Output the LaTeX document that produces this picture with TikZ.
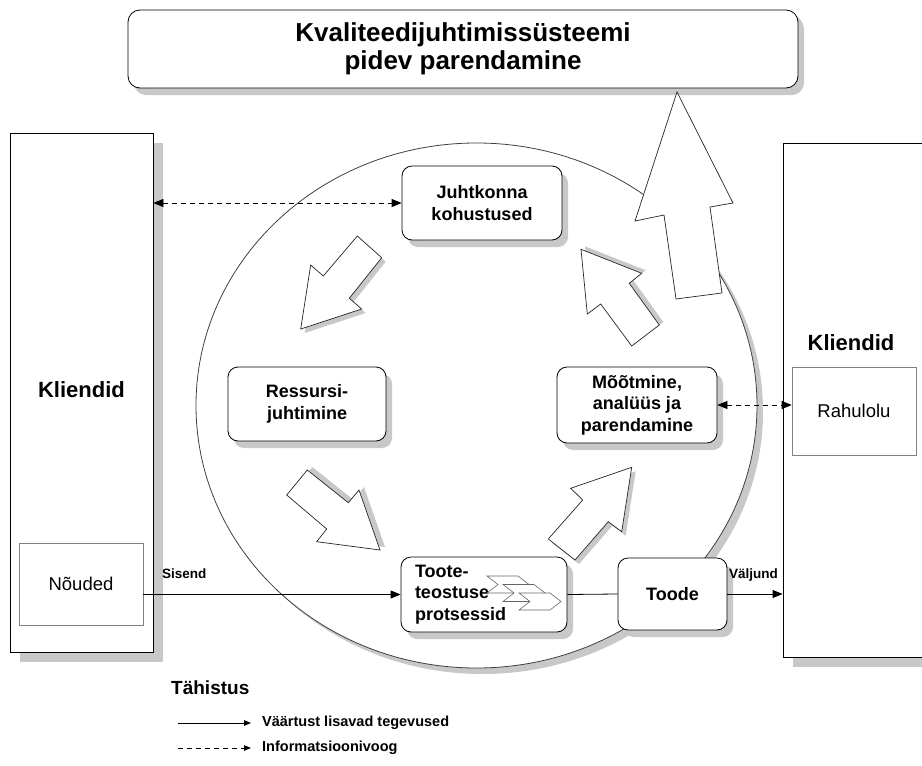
\documentclass[tikz,border=0pt]{standalone}
\usepackage{fontspec}
\setmainfont{Liberation Sans}
\usetikzlibrary{arrows.meta,shadows}
\definecolor{shadowc}{RGB}{200,200,200}
\definecolor{bordergray}{RGB}{128,128,128}
\tikzset{
  rbox/.style={draw=black, line width=0.8pt, fill=white, rounded corners=10pt,
    inner sep=0pt, align=center, font=\fontsize{18}{21.5}\selectfont\bfseries,
    drop shadow={shadow xshift=6pt, shadow yshift=-7pt, fill=shadowc, opacity=1}},
  tbox/.style={rbox, rounded corners=12pt, font=\fontsize{26}{28}\selectfont\bfseries,
    drop shadow={shadow xshift=5pt, shadow yshift=-5pt, fill=shadowc, opacity=1}},
  kbox/.style={draw=black, line width=0.8pt, fill=white, inner sep=0pt,
    drop shadow={shadow xshift=10pt, shadow yshift=-10pt, fill=shadowc, opacity=1}},
  gbox/.style={draw=bordergray, line width=0.6pt, fill=white, inner sep=0pt,
    font=\fontsize{18.5}{21}\selectfont},
  ktext/.style={inner sep=0pt, font=\fontsize{22}{26}\selectfont\bfseries},
  lbl/.style={inner sep=0pt, font=\fontsize{13.5}{16}\selectfont\bfseries},
  lgtext/.style={inner sep=0pt, font=\fontsize{14.5}{17}\selectfont\bfseries},
  circ/.style={draw=black!75, line width=0.8pt, fill=white},
  barrow/.style={draw=black!85, line width=0.7pt, fill=white, line join=miter},
  ashadow/.style={fill=shadowc, draw=none},
  chev/.style={draw=black!60, fill=white, line width=0.6pt, line join=miter},
  flow/.style={draw=black, line width=0.8pt},
  info/.style={draw=black, line width=0.8pt, dash pattern=on 5pt off 4pt},
  bigtip/.tip={Triangle[length=10pt,width=8pt]},
  smalltip/.tip={Triangle[length=7pt,width=5.5pt]}
}
\begin{document}
\begin{tikzpicture}[x=1pt,y=-1pt]
\useasboundingbox (0,0) rectangle (922,766);
\clip (0,0) rectangle (922,766);
\fill[white] (0,0) rectangle (922,766);

% customers boxes
\node[kbox, minimum width=143pt, minimum height=519pt] (kl) at (81.5,392.5) {};
\node[kbox, minimum width=180pt, minimum height=514pt] (kr) at (873,400) {};
\node[ktext] (kltxt) at (81.5,390) {Kliendid};
\node[ktext] (krtxt) at (851,343) {Kliendid};
\node[gbox, minimum width=124pt, minimum height=82pt] (nou) at (81,584) {Nõuded};
\node[gbox, minimum width=124pt, minimum height=88pt] (rah) at (854,411) {Rahulolu};

% circle
\fill[shadowc] (482.5,411.5) ellipse [x radius=280.5pt, y radius=262.5pt];
\draw[circ] (476.5,405.5) ellipse [x radius=280.5pt, y radius=262.5pt];

% title
\node[tbox, minimum width=670pt, minimum height=78pt] (title) at (463,49)
  {Kvaliteedijuhtimissüsteemi\\pidev parendamine};

% big arrow
\draw[barrow] (677,92) -- (733,203) -- (710,207) -- (722,293) -- (676,299)
  -- (664,215) -- (635,221) -- cycle;

% small block arrows
\fill[ashadow, shift={(4,4)}] (300.7,329) -- (310.7,265) -- (323.3,276) -- (357.3,236)
  -- (381.7,257.7) -- (349.3,298.3) -- (361.7,309) -- cycle;
\draw[barrow] (300.7,329) -- (310.7,265) -- (323.3,276) -- (357.3,236)
  -- (381.7,257.7) -- (349.3,298.3) -- (361.7,309) -- cycle;

\fill[ashadow, shift={(5,-3)}] (286.7,495) -- (307.3,470) -- (348.3,502.7) -- (359,490)
  -- (380,550) -- (316.7,541.7) -- (326.7,529) -- cycle;
\draw[barrow] (286.7,495) -- (307.3,470) -- (348.3,502.7) -- (359,490)
  -- (380,550) -- (316.7,541.7) -- (326.7,529) -- cycle;

\fill[ashadow, shift={(4,4)}] (631.7,467.3) -- (570.7,488.3) -- (582.7,500) -- (548.3,539)
  -- (575,560) -- (608.3,521.7) -- (621.7,531.7) -- cycle;
\draw[barrow] (631.7,467.3) -- (570.7,488.3) -- (582.7,500) -- (548.3,539)
  -- (575,560) -- (608.3,521.7) -- (621.7,531.7) -- cycle;

\fill[ashadow, shift={(4,-3)}] (581,249.3) -- (641.7,273.3) -- (629.3,283.3) -- (659.3,325)
  -- (631.7,346) -- (600.7,304) -- (587.3,314) -- cycle;
\draw[barrow] (581,249.3) -- (641.7,273.3) -- (629.3,283.3) -- (659.3,325)
  -- (631.7,346) -- (600.7,304) -- (587.3,314) -- cycle;

% process boxes
\node[rbox, minimum width=160pt, minimum height=74pt] (jk) at (482,203) {Juhtkonna\\kohustused};
\node[rbox, minimum width=158pt, minimum height=74pt] (rj) at (307,404) {Ressursi-\\juhtimine};
\node[rbox, minimum width=160pt, minimum height=76pt] (mo) at (637,405) {Mõõtmine,\\analüüs ja\\parendamine};
\node[rbox, minimum width=166pt, minimum height=75pt, text width=138pt, align=left] (tt)
  at (484,594.5) {Toote-\\teostuse\\protsessid};
\node[rbox, minimum width=109pt, minimum height=72pt] (td) at (672.5,594) {Toode};

% chevrons
\foreach \cx/\cy in {487/576, 503/584.5, 519/593}{
  \draw[chev] (\cx,\cy) -- ++(31,0) -- ++(11,8.5) -- ++(-11,8.5) -- ++(-31,0)
    -- ++(11,-8.5) -- cycle;
}

% connectors
\draw[info, {bigtip}-{bigtip}] (kl.east |- jk.west) -- (jk.west);
\draw[info, {bigtip}-{bigtip}] (mo.east) -- (rah.west |- mo.east);
\draw[flow, -{bigtip}] (nou.east |- tt.west) -- (tt.west);
\draw[flow] (tt.east) -- (td.west);
\draw[flow, -{bigtip}] (td.east) -- (kr.west |- td.east);
\node[lbl, anchor=base west] (sis) at (162,578) {Sisend};
\node[lbl, anchor=base west] (val) at (729,578) {Väljund};

% legend
\node[inner sep=0pt, anchor=base west, font=\fontsize{19}{22}\selectfont\bfseries] (tah) at (171,694) {Tähistus};
\coordinate (l1a) at (178,723);
\coordinate (l1b) at (251,723);
\coordinate (l2a) at (178,748);
\coordinate (l2b) at (251,748);
\draw[flow, -{smalltip}] (l1a) -- (l1b);
\draw[info, -{smalltip}] (l2a) -- (l2b);
\node[lgtext, anchor=west] (l1t) at (262,723) {Väärtust lisavad tegevused};
\node[lgtext, anchor=west] (l2t) at (262,748) {Informatsioonivoog};
\end{tikzpicture}
\end{document}
